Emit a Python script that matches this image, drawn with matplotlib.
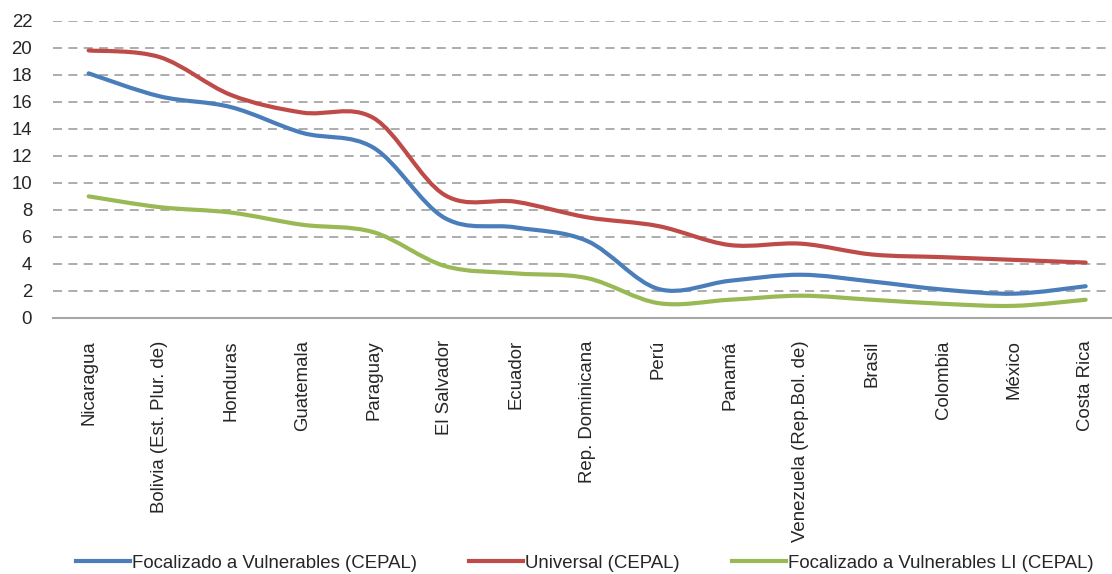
import matplotlib
matplotlib.use("Agg")
import matplotlib.pyplot as plt
from matplotlib.path import Path
from matplotlib.patches import PathPatch
from matplotlib.lines import Line2D

plt.rcParams["font.family"] = ["Liberation Sans", "DejaVu Sans"]

COUNTRIES = [
    "Nicaragua", "Bolivia (Est. Plur. de)", "Honduras", "Guatemala", "Paraguay",
    "El Salvador", "Ecuador", "Rep. Dominicana", "Perú", "Panamá",
    "Venezuela (Rep.Bol. de)", "Brasil", "Colombia", "México", "Costa Rica",
]
FOCALIZADO = [18.1, 16.4, 15.6, 13.7, 12.6, 7.4, 6.7, 5.7, 2.15, 2.75, 3.2, 2.7, 2.1, 1.8, 2.35]
UNIVERSAL = [19.8, 19.3, 16.5, 15.2, 14.8, 9.1, 8.6, 7.45, 6.8, 5.4, 5.5, 4.7, 4.5, 4.3, 4.1]
FOCALIZADO_LI = [9.0, 8.2, 7.8, 6.9, 6.35, 3.85, 3.3, 2.95, 1.1, 1.35, 1.65, 1.35, 1.05, 0.9, 1.35]
SERIES_LABELS = [
    "Focalizado a Vulnerables (CEPAL)",
    "Universal (CEPAL)",
    "Focalizado a Vulnerables LI (CEPAL)",
]
Y_TICKS = list(range(0, 23, 2))

BLUE = "#4a7ebb"
RED = "#be4b48"
GREEN = "#98b954"
GRID = "#a6a6a6"
TEXT = "#262626"
FS = 13.4


def smooth_path(xs, ys):
    # Excel-like smoothed line: Catmull-Rom segments drawn as cubic Beziers
    n = len(xs)
    verts = [(xs[0], ys[0])]
    codes = [Path.MOVETO]
    for i in range(n - 1):
        x0, y0 = xs[max(i - 1, 0)], ys[max(i - 1, 0)]
        x1, y1 = xs[i], ys[i]
        x2, y2 = xs[i + 1], ys[i + 1]
        x3, y3 = xs[min(i + 2, n - 1)], ys[min(i + 2, n - 1)]
        c1 = (x1 + (x2 - x0) / 6, y1 + (y2 - y0) / 6)
        c2 = (x2 - (x3 - x1) / 6, y2 - (y3 - y1) / 6)
        verts += [c1, c2, (x2, y2)]
        codes += [Path.CURVE4] * 3
    return Path(verts, codes)


fig = plt.figure(figsize=(11.12, 5.74), dpi=100)
ax = fig.add_axes([0.0477, 0.446, 0.9523, 0.518])

xs = list(range(len(COUNTRIES)))
for vals, color in [(FOCALIZADO, BLUE), (UNIVERSAL, RED), (FOCALIZADO_LI, GREEN)]:
    ax.add_patch(PathPatch(smooth_path(xs, vals), facecolor="none", edgecolor=color,
                           lw=3.0, capstyle="round", joinstyle="round", zorder=3))

ax.set_xlim(-0.5, 14.37)
ax.set_ylim(0, 22)
ax.set_yticks(Y_TICKS)
ax.set_yticklabels([str(v) for v in Y_TICKS], fontsize=FS, color=TEXT)
ax.set_xticks(xs)
ax.set_xticklabels(COUNTRIES, rotation=90, fontsize=FS, color=TEXT, va="top", ha="center")
ax.tick_params(axis="both", length=0)
ax.tick_params(axis="y", pad=15)
ax.tick_params(axis="x", pad=16)

for s in ["top", "right", "left"]:
    ax.spines[s].set_visible(False)
ax.spines["bottom"].set_color(GRID)
ax.spines["bottom"].set_linewidth(1.5)
for v in Y_TICKS[1:]:
    ax.axhline(v, color=GRID, lw=1.3, dashes=(5, 3.5), zorder=1)

handles = [Line2D([], [], color=c, lw=3.0) for c in (BLUE, RED, GREEN)]
fig.legend(handles, SERIES_LABELS, loc="center", bbox_to_anchor=(0.526, 0.019), ncol=3,
           frameon=False, fontsize=FS, handlelength=2.9, handletextpad=0.12,
           columnspacing=2.8, labelcolor=TEXT)

fig.savefig("out.png", dpi=100)
